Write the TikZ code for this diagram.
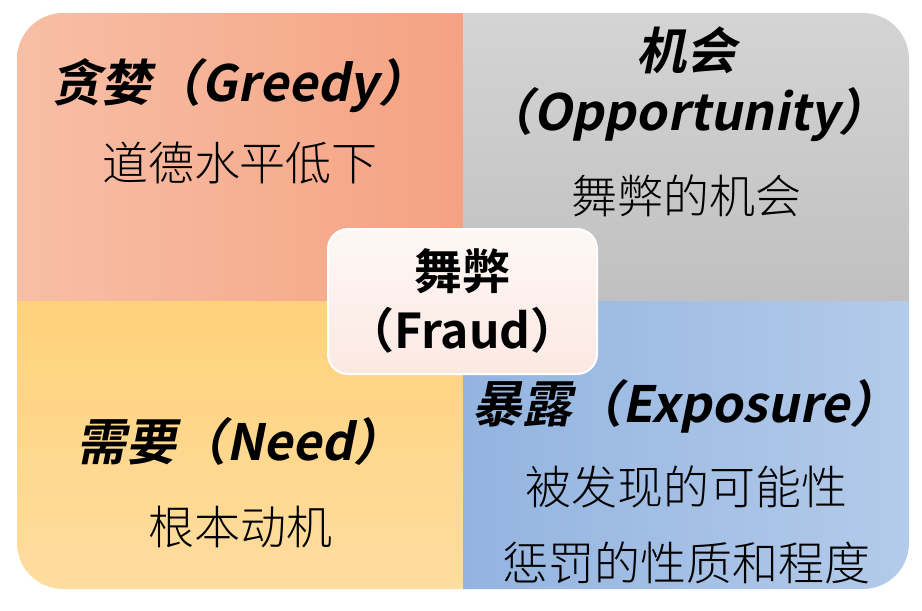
\documentclass[tikz,border=0pt]{standalone}
\usepackage{fontspec}
\newfontfamily\cjk{Noto Sans CJK SC Light}
\newfontfamily\cjkt[FakeSlant=0.2]{Noto Sans CJK SC Bold}
\newfontfamily\cjkb{Noto Sans CJK SC Bold}
\definecolor{tlA}{HTML}{F7BFA6}
\definecolor{tlB}{HTML}{F5A282}
\definecolor{trA}{HTML}{D4D4D4}
\definecolor{trB}{HTML}{C0C0C0}
\definecolor{blA}{HTML}{FFD27A}
\definecolor{blB}{HTML}{FEDDA0}
\definecolor{brA}{HTML}{93B4E0}
\definecolor{brB}{HTML}{B4CBEA}
\definecolor{cA}{HTML}{FDF8F5}
\definecolor{cB}{HTML}{FCE8E3}
\tikzset{
  titletext/.style={inner sep=0pt, anchor=base, font=\cjkt\fontsize{50}{60}\selectfont},
  bodytext/.style={inner sep=0pt, anchor=base, font=\cjk\fontsize{46}{55}\selectfont},
  centertext/.style={inner sep=0pt, anchor=base, font=\cjkb\fontsize{48}{58}\selectfont},
}
\begin{document}
\begin{tikzpicture}[x=1pt,y=-1pt]
\useasboundingbox (0,0) rectangle (922,611);
\fill[white] (0,0) rectangle (922,611);
% quadrants
\shade[left color=tlA, right color=tlB]
  (17,301) -- (17,150) [rounded corners=46pt] -- (17,13) -- (200,13) [sharp corners] -- (463,13) -- (463,301) -- cycle;
\shade[top color=trA, bottom color=trB]
  (463,13) -- (700,13) [rounded corners=46pt] -- (909,13) -- (909,150) [sharp corners] -- (909,301) -- (463,301) -- cycle;
\shade[top color=blA, bottom color=blB]
  (17,301) -- (17,450) [rounded corners=46pt] -- (17,589) -- (200,589) [sharp corners] -- (463,589) -- (463,301) -- cycle;
\shade[left color=brA, right color=brB]
  (463,301) -- (909,301) -- (909,450) [rounded corners=46pt] -- (909,589) -- (700,589) [sharp corners] -- (463,589) -- cycle;
% center box
\node[draw=white, line width=2pt, rounded corners=20pt, top color=cA, bottom color=cB,
      minimum width=269pt, minimum height=145pt, inner sep=0pt] (fraud) at (462.5,301.5) {};
% texts
\node[titletext] (greedy) at (240,101) {贪婪（Greedy）};
\node[bodytext] (greedyb) at (240,180) {道德水平低下};
\node[titletext] (opp1) at (686,69) {机会};
\node[titletext] (opp2) at (686,130) {（Opportunity）};
\node[bodytext] (oppb) at (686,213) {舞弊的机会};
\node[centertext] (fr1) at (462.5,289) {舞弊};
\node[centertext] (fr2) at (462.5,348) {（Fraud）};
\node[titletext] (need) at (240,460) {需要（Need）};
\node[bodytext] (needb) at (240,544) {根本动机};
\node[titletext] (exp) at (686,422) {暴露（Exposure）};
\node[bodytext] (expb1) at (686,504) {被发现的可能性};
\node[bodytext] (expb2) at (686,580) {惩罚的性质和程度};
\end{tikzpicture}
\end{document}
